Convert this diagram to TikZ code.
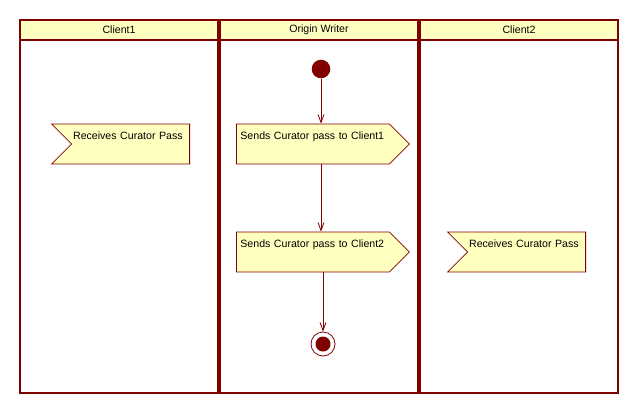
\documentclass[tikz,border=0pt]{standalone}
\usepackage{fontspec}
\setmainfont{Liberation Sans}
\usetikzlibrary{shapes.symbols,arrows.meta}
\definecolor{laneline}{HTML}{800000}
\definecolor{notefill}{HTML}{FFFFC0}
\tikzset{
	lane/.style={draw=laneline, line width=2pt},
	header/.style={draw=laneline, fill=notefill, line width=2pt, minimum width=198pt, minimum height=20pt, inner sep=0pt, font=\fontsize{10.6}{12}\selectfont},
	action/.style={signal, draw=laneline, fill=notefill, line width=0.8pt, signal pointer angle=90, align=left, inner xsep=4pt, inner ysep=5pt, text height=10pt, text depth=20pt, font=\fontsize{10.6}{12}\selectfont},
	sendbox/.style={action, signal to=east, text width=145pt},
	recvbox/.style={action, signal to=nowhere, signal from=west, inner xsep=1.5pt, text width=115pt},
	startnode/.style={circle, fill=laneline, minimum size=18.6pt, inner sep=0pt},
	finalnode/.style={circle, draw=laneline, fill=white, line width=0.8pt, minimum size=24pt, inner sep=0pt, path picture={\fill[laneline] (path picture bounding box.center) circle (7.5pt);}},
	flow/.style={draw=laneline, line width=0.8pt, -{Straight Barb[length=8pt,width=6pt]}}
}
\begin{document}
\begin{tikzpicture}[x=1pt, y=-1pt]
			\useasboundingbox (0,0) rectangle (639,412);
			%%%%% START %%%%%
			\draw[lane] (20, 20) rectangle (218, 393);
			\draw[lane] (220, 20) rectangle (418, 393);
			\draw[lane] (420, 20) rectangle (618, 393);
			
			\node[header] (head1) at (119, 30) {Client1};
			\node[header] (head2) at (319, 30) {Origin Writer};
			\node[header] (head3) at (519, 30) {Client2};
			
			\node[startnode] (ini) at (321, 69) {};
			\node[sendbox, anchor=west] (send1) at (236, 144) {Sends Curator pass to Client1};
			\node[recvbox, anchor=east] (recv1) at (190, 144) {Receives Curator Pass};
			\node[sendbox, anchor=west] (send2) at (236, 252) {Sends Curator pass to Client2};
			\node[recvbox, anchor=east] (recv2) at (586, 252) {Receives Curator Pass};
			\node[finalnode] (fin) at (323, 344) {};
			
			\draw[flow] (ini) -- (ini |- send1.north);
			\draw[flow] (send1.south -| ini) -- (send2.north -| ini);
			\draw[flow] (send2.south -| fin) -- (fin);
			%%%%% END %%%%%
\end{tikzpicture}
\end{document}
